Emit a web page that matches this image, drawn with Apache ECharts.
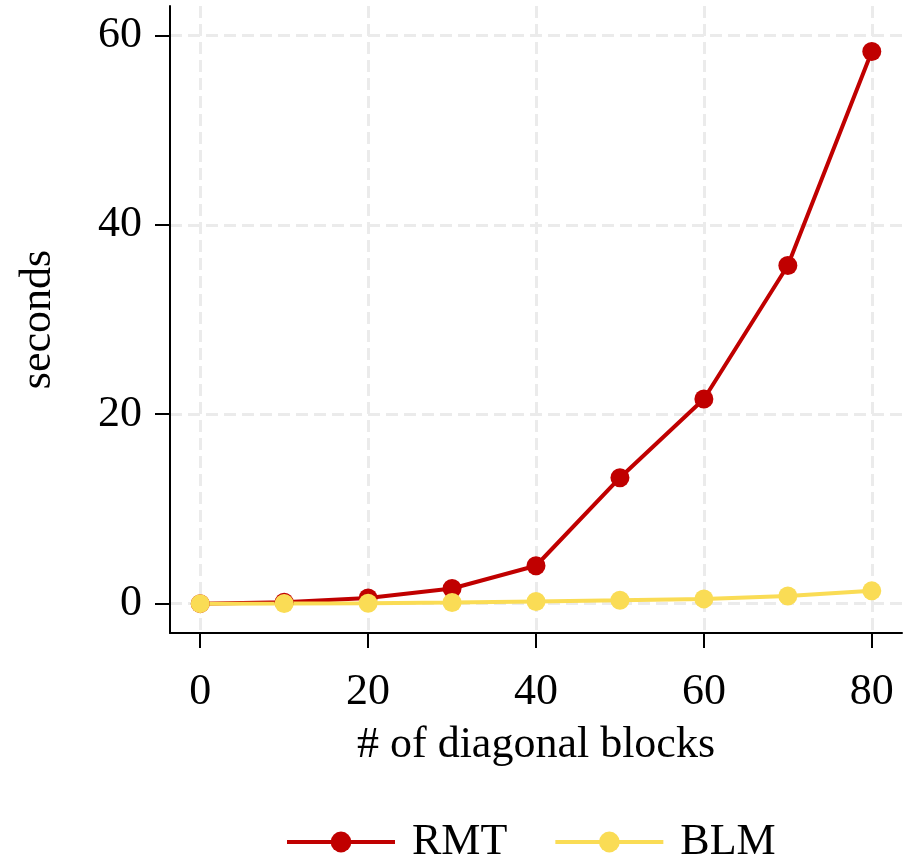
<!DOCTYPE html>
<html>
<head>
<meta charset="utf-8">
<script src="https://cdn.jsdelivr.net/npm/echarts@6/dist/echarts.min.js"></script>
<style>
  html, body { margin: 0; padding: 0; background: #fff; }
  #chart { width: 918px; height: 863px; }
</style>
</head>
<body>
<div id="chart"></div>
<script>
const blocks = [0, 10, 20, 30, 40, 50, 60, 70, 80];
const rmt = [0, 0.15, 0.6, 1.6, 4.0, 13.3, 21.6, 35.7, 58.3];
const blm = [0, 0.02, 0.05, 0.12, 0.23, 0.35, 0.5, 0.8, 1.35];
const xTicks = [0, 20, 40, 60, 80];
const yTicks = [0, 20, 40, 60];

const font = 'Liberation Serif';
const fs = 44;
const grid = { type: 'dashed', color: '#ebebeb', width: 3 };

const chart = echarts.init(document.getElementById('chart'));
chart.setOption({
    animation: false,
    backgroundColor: '#fff',
    textStyle: { fontFamily: font },
    grid: { left: 170, right: 16, top: 6, bottom: 230 },
    xAxis: {
        type: 'value',
        min: -3.6,
        max: 83.6,
        name: '# of diagonal blocks',
        nameLocation: 'middle',
        nameGap: 90,
        nameTextStyle: { fontFamily: font, fontSize: fs, color: '#000' },
        axisLine: { onZero: false, lineStyle: { color: '#000', width: 2 } },
        axisTick: { show: true, length: 15, customValues: xTicks, lineStyle: { color: '#000', width: 2 } },
        axisLabel: { customValues: xTicks, margin: 37, fontFamily: font, fontSize: fs, color: '#000' },
        splitLine: { show: true, lineStyle: grid },
    },
    yAxis: {
        type: 'value',
        min: -3.1,
        max: 63.1,
        name: 'seconds',
        nameLocation: 'middle',
        nameGap: 110,
        nameTextStyle: { fontFamily: font, fontSize: fs, color: '#000' },
        axisLine: { show: true, onZero: false, lineStyle: { color: '#000', width: 2 } },
        axisTick: { show: true, length: 15, customValues: yTicks, lineStyle: { color: '#000', width: 2 } },
        axisLabel: { customValues: yTicks, margin: 28, fontFamily: font, fontSize: fs, color: '#000' },
        splitLine: { show: true, lineStyle: grid },
    },
    legend: {
        top: 815,
        left: 280,
        itemWidth: 108,
        itemHeight: 26,
        itemGap: 46,
        lineStyle: { width: 4 },
        textStyle: { fontFamily: font, fontSize: fs, color: '#000', padding: [0, 0, 0, 12] },
        data: ['RMT', 'BLM'],
    },
    series: [
        {
            name: 'RMT',
            type: 'line',
            data: blocks.map((b, i) => [b, rmt[i]]),
            symbol: 'circle',
            symbolSize: 19,
            lineStyle: { color: '#c00000', width: 4 },
            itemStyle: { color: '#c00000' },
        },
        {
            name: 'BLM',
            type: 'line',
            data: blocks.map((b, i) => [b, blm[i]]),
            symbol: 'circle',
            symbolSize: 19,
            lineStyle: { color: '#fadc55', width: 4 },
            itemStyle: { color: '#fadc55' },
        },
    ],
});
</script>
</body>
</html>
